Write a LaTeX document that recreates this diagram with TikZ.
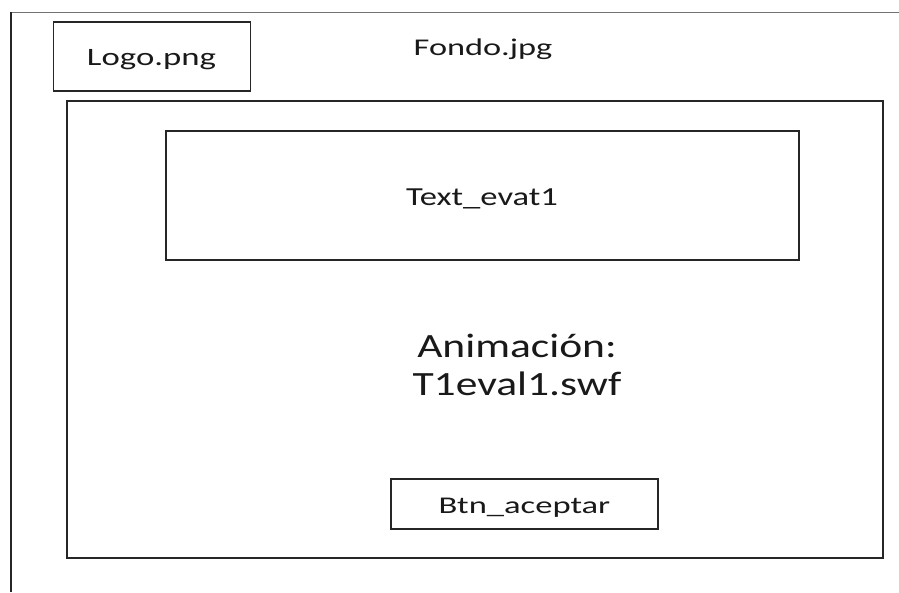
\documentclass[tikz,border=0pt]{standalone}
\usepackage{fontspec}
\usepackage{graphicx}
\setmainfont{Carlito}
\begin{document}
\begin{tikzpicture}[x=1pt,y=-1pt,
  box/.style={draw=black!85,line width=1.4pt,inner sep=0pt},
  lbl/.style={inner sep=0pt,text=black!90}]
\useasboundingbox (0,0) rectangle (899,592);
% outer frame
\draw[black!55,line width=0.9pt] (899,12) -- (11,12);
\draw[black!85,line width=1.4pt] (11,12) -- (11,592);
% boxes
\node[box,minimum width=197pt,minimum height=69pt] (logo) at (152,56.5) {};
\node[lbl,anchor=base] at (151.5,65) {\fontsize{25}{30}\selectfont\scalebox{1.39}[1]{Logo.png}};
\node[lbl,anchor=base] (fondo) at (483,55) {\fontsize{24}{29}\selectfont\scalebox{1.43}[1]{Fondo.jpg}};
\node[box,minimum width=816pt,minimum height=457pt] (main) at (475,329.5) {};
\node[box,minimum width=633pt,minimum height=129pt] (text) at (482.5,195.5) {};
\node[lbl,anchor=base] at (482,205) {\fontsize{26}{31}\selectfont\scalebox{1.33}[1]{Text\_evat1}};
\node[lbl,anchor=base] (anim) at (517,357) {\fontsize{34}{38}\selectfont\scalebox{1.28}[1]{Animación:}};
\node[lbl,anchor=base] (swf) at (517,395) {\fontsize{34}{38}\selectfont\scalebox{1.28}[1]{T1eval1.swf}};
\node[box,minimum width=267pt,minimum height=50pt] (btn) at (524.5,504) {};
\node[lbl,anchor=base] at (524.5,513) {\fontsize{24}{29}\selectfont\scalebox{1.44}[1]{Btn\_aceptar}};
\end{tikzpicture}
\end{document}
